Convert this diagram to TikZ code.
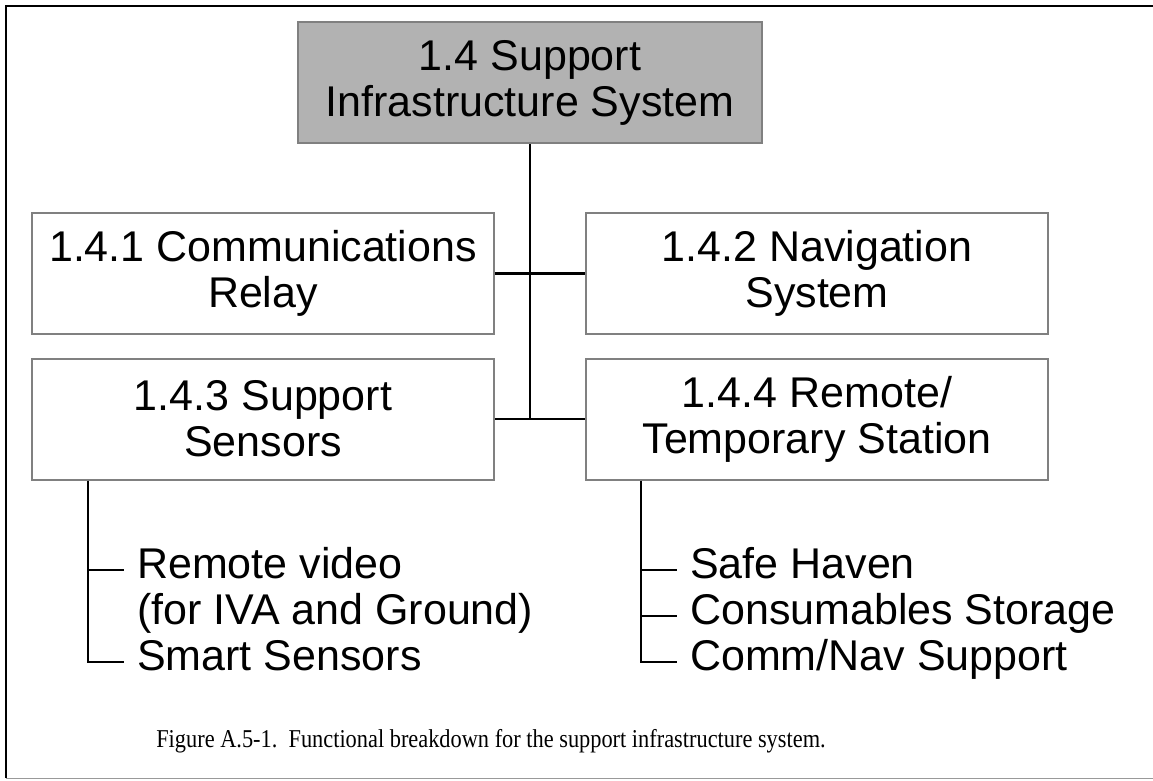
\documentclass[tikz,border=0pt]{standalone}
\usepackage{fontspec}
\setmainfont{Liberation Serif}
\setsansfont{Liberation Sans}
\newfontfamily\capfont[FakeStretch=0.87]{Liberation Serif}
\usetikzlibrary{positioning, calc}

\begin{document}
\begin{tikzpicture}[
      x=1pt, y=-1pt,
      wbsbox/.style={draw=black!50, line width=2pt, minimum width=462pt, minimum height=121pt, align=center, inner sep=0pt, font=\sffamily\fontsize{43}{46}\selectfont},
      topbox/.style={wbsbox, fill=black!30, minimum width=464pt},
      link/.style={line width=2.6pt, black},
      tree/.style={line width=2.3pt, black},
      item/.style={anchor=base west, inner sep=0pt, align=left, font=\sffamily\fontsize{43}{46}\selectfont}
    ]
    \useasboundingbox (0,0) rectangle (1153,780);
    % Frame
    \draw[line width=2pt] (6,778) -- (6,6) -- (1153,6);
    \draw[black!40, line width=1pt] (6,778.5) -- (1153,778.5);

    % Boxes
    \node[topbox] (sys) at (530,82.5) {1.4 Support\\Infrastructure System};
    \node[wbsbox] (comm) at (263,273.5) {1.4.1 Communications\\Relay};
    \node[wbsbox] (nav) at (817,273.5) {1.4.2 Navigation\\System};
    \node[wbsbox] (sens) at (263,419) {1.4.3 Support\\Sensors};
    \node[wbsbox] (stat) at (817,419) {1.4.4 Remote/\\Temporary Station};

    % Links between boxes
    \coordinate (hub) at (sys.south |- sens.east);
    \draw[link] (sys.south) -- (hub);
    \draw[link] (comm.east) -- (nav.west);
    \draw[link] (sens.east) -- (stat.west);

    % Sensor items (base of a two-line node is its last line)
    \node[item] (video) at (137,624) {Remote video\\(for IVA and Ground)};
    \node[item] (smart) at (137,670) {Smart Sensors};
    \coordinate (ltree) at ([xshift=57pt]sens.south west);
    \coordinate[xshift=-13pt, yshift=54pt] (l1) at (video.base west);
    \coordinate[xshift=-13pt, yshift=8pt] (l2) at (smart.base west);
    \draw[tree] (ltree) |- (l2);
    \draw[tree] (l1 -| ltree) -- (l1);

    % Station items
    \node[item] (haven) at (690,578) {Safe Haven};
    \node[item] (store) at (690,624) {Consumables Storage};
    \node[item] (cnsup) at (690,670) {Comm/Nav Support};
    \coordinate (rtree) at ([xshift=56pt]stat.south west);
    \coordinate[xshift=-13pt, yshift=8pt] (r1) at (haven.base west);
    \coordinate[xshift=-13pt, yshift=8pt] (r2) at (store.base west);
    \coordinate[xshift=-13pt, yshift=8pt] (r3) at (cnsup.base west);
    \draw[tree] (rtree) |- (r3);
    \draw[tree] (r1 -| rtree) -- (r1);
    \draw[tree] (r2 -| rtree) -- (r2);

    % Caption
    \node[anchor=base, inner sep=0pt, font=\capfont\fontsize{25.7}{30}\selectfont] (caption) at (491,747) {Figure A.5-1.\ \ Functional breakdown for the support infrastructure system.};
  \end{tikzpicture}
\end{document}
